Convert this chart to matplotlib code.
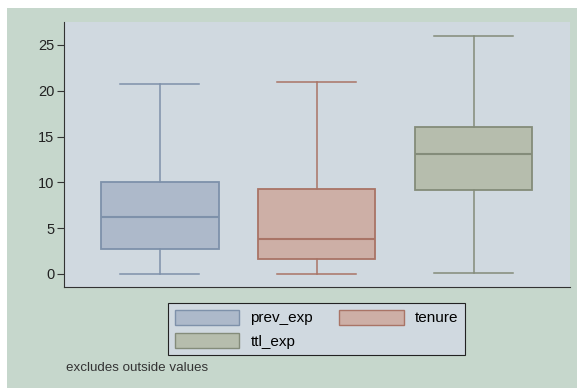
import matplotlib.pyplot as plt
from matplotlib.patches import Patch, Rectangle

names = ['prev_exp', 'tenure', 'ttl_exp']
whislo = [0.0, 0.0, 0.1]
q1 = [2.7, 1.6, 9.2]
med = [6.25, 3.8, 13.1]
q3 = [10.0, 9.3, 16.0]
whishi = [20.75, 20.9, 26.0]
fills = ['#adb9ca', '#cdafa6', '#b6bdad']
edges = ['#7e91aa', '#a97466', '#848c7a']

plt.rcParams['font.family'] = 'Liberation Sans'

fig = plt.figure(figsize=(5.77, 3.88), dpi=100, facecolor='white')
fig.patches.append(Rectangle((7/577, 0), 1, 1 - 8/388, transform=fig.transFigure,
                             facecolor='#c6d7cc', edgecolor='none', zorder=-5))
ax = fig.add_axes([64/577, 101/388, 506/577, 265/388])
ax.set_facecolor('#d0d9e0')

stats = []
for i in range(len(names)):
    stats.append(dict(label=names[i], whislo=whislo[i], q1=q1[i], med=med[i],
                      q3=q3[i], whishi=whishi[i], fliers=[]))
bp = ax.bxp(stats, positions=[1, 2, 3], widths=0.75, patch_artist=True,
            showfliers=False, showcaps=True)
for i in range(3):
    bp['boxes'][i].set(facecolor=fills[i], edgecolor=edges[i], linewidth=1.3)
    bp['medians'][i].set(color=edges[i], linewidth=1.5)
    for ln in bp['whiskers'][2*i:2*i+2] + bp['caps'][2*i:2*i+2]:
        ln.set(color=edges[i], linewidth=1.1)
    for c in bp['caps'][2*i:2*i+2]:
        x = c.get_xdata()
        mid = (x[0] + x[1]) / 2
        c.set_xdata([mid - 0.25, mid + 0.25])

ax.set_xlim(0.39, 3.615)
ax.set_ylim(-1.42, 27.5)
ax.set_yticks([0, 5, 10, 15, 20, 25])
ax.set_xticks([])
for s in ['top', 'right']:
    ax.spines[s].set_visible(False)
ax.spines['left'].set_color('#333333')
ax.spines['bottom'].set_color('#333333')
ax.tick_params(axis='y', length=5, width=0.8, color='#333333', labelsize=10.5,
               labelcolor='#222222', pad=2)

# legend fills row by row in the reference: prev_exp, tenure / ttl_exp
handles = [Patch(facecolor=fills[i], edgecolor=edges[i], label=names[i]) for i in [0, 2, 1]]
leg = fig.legend(handles=handles, ncol=2, loc='upper center',
                 bbox_to_anchor=(316.5/577, 1 - 303/388), fontsize=11,
                 frameon=True, fancybox=False, edgecolor='#222222',
                 facecolor='#d0d9e0', framealpha=1, handlelength=4.25,
                 handleheight=1.1, handletextpad=0.72, columnspacing=1.7,
                 labelspacing=0.5, borderpad=0.45, borderaxespad=0)
leg.get_frame().set_linewidth(0.8)

fig.text(66/577, 1 - 368/388, 'excludes outside values', fontsize=9.6,
         color='#333333', va='center', ha='left')

fig.savefig('out.png', dpi=100)
